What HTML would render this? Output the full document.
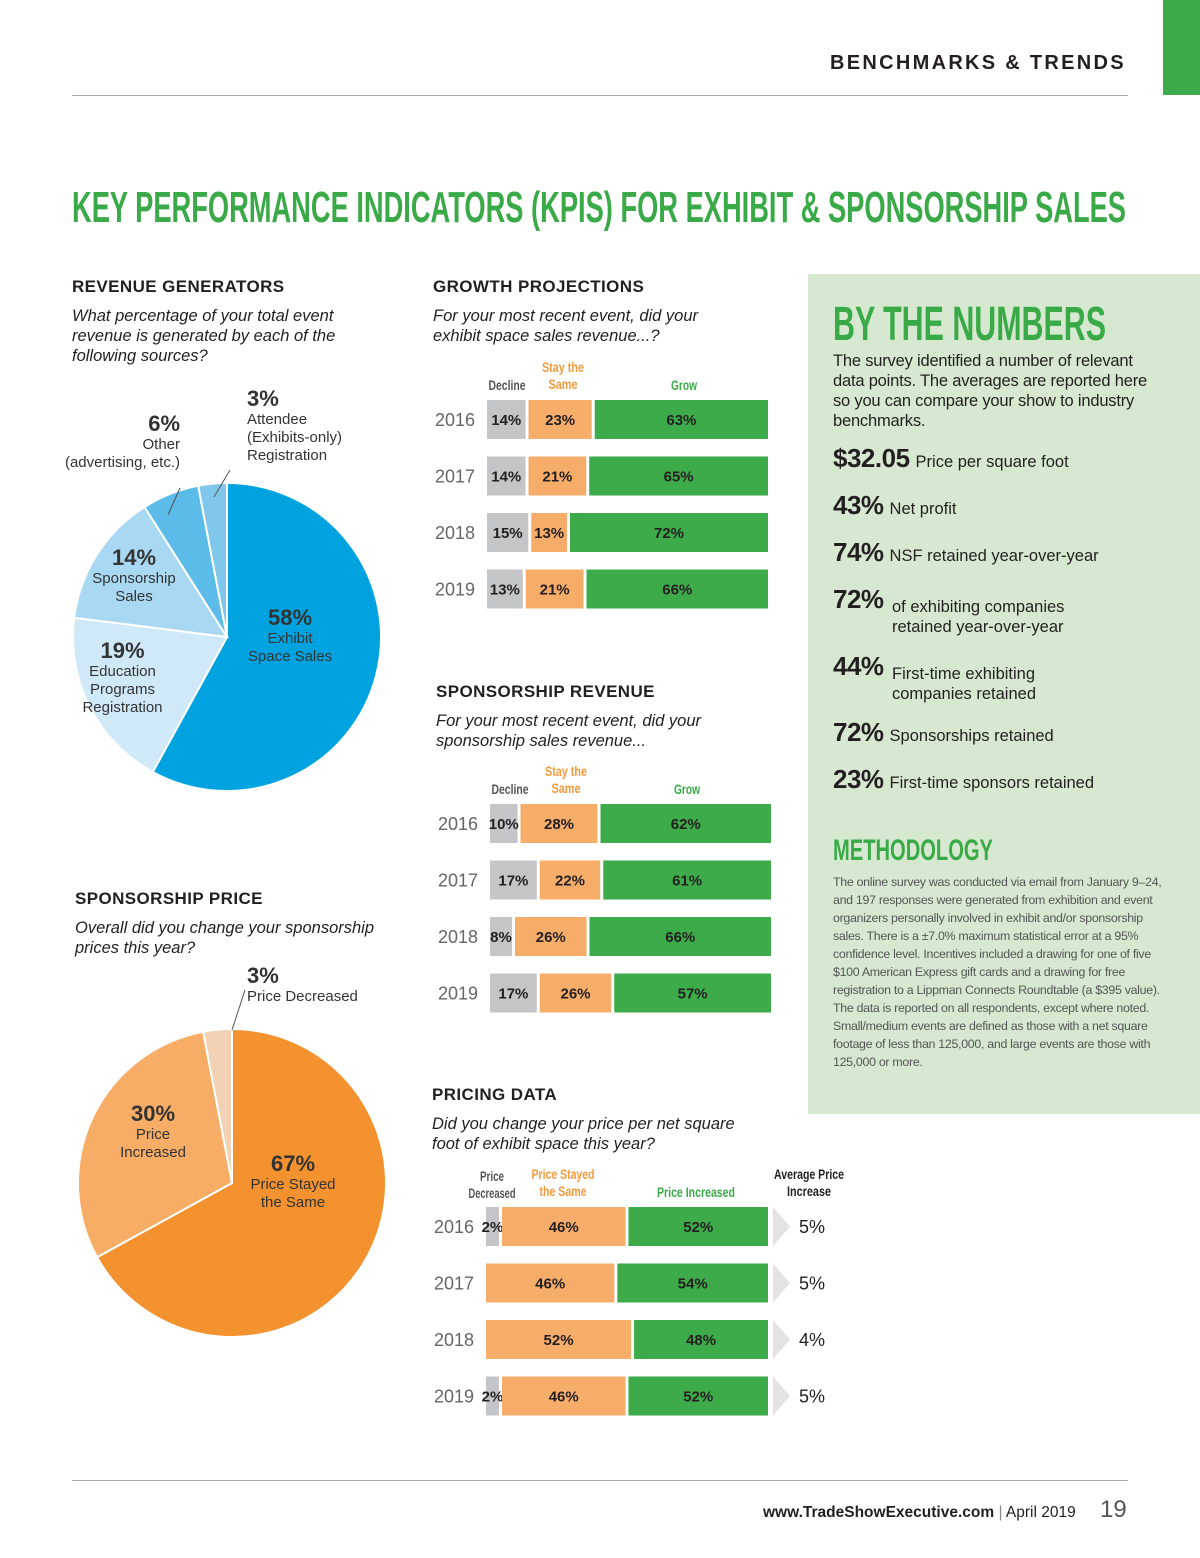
<!DOCTYPE html>
<html><head><meta charset="utf-8">
<style>
body{margin:0;width:1200px;height:1558px;position:relative;background:#fff;font-family:"Liberation Sans",sans-serif;color:#231f20;overflow:hidden}
.a{position:absolute}
.h{font-weight:bold;font-size:17px;letter-spacing:0.4px;color:#231f20}
.q{font-style:italic;font-size:16.5px;line-height:20px;color:#231f20}
.lbl{font-size:15px;line-height:18px;color:#333;text-align:center}
.big{font-weight:bold;font-size:22px}
.stat{font-size:16.5px;color:#231f20;line-height:20px}
.stat b{font-size:26px;letter-spacing:-0.5px;margin-right:6px}
</style></head><body>
<div class="a" style="left:1163px;top:0;width:37px;height:95px;background:#3dab4a"></div>
<div class="a" style="left:830px;top:52px;font-size:20px;letter-spacing:2.3px;font-weight:bold;color:#231f20">BENCHMARKS &amp; TRENDS</div>
<div class="a" style="left:72px;top:95px;width:1056px;height:1px;background:#aaa"></div>
<svg class="a" style="left:0;top:170px" width="1200" height="70">
<text x="72" y="52" textLength="1054" lengthAdjust="spacingAndGlyphs" font-family="Liberation Sans Narrow, Liberation Sans, sans-serif" font-weight="bold" font-size="44" fill="#3aaa48">KEY PERFORMANCE INDICATORS (KPIS) FOR EXHIBIT &amp; SPONSORSHIP SALES</text></svg>

<div class="a h" style="left:72px;top:277px">REVENUE GENERATORS</div>
<div class="a q" style="left:72px;top:306px;width:290px">What percentage of your total event revenue is generated by each of the following sources?</div>
<svg class="a" id="pie1" style="left:0;top:0" width="420" height="1558"></svg>
<div class="a lbl" style="left:240px;top:609px;width:100px"><span class="big">58%</span><br>Exhibit<br>Space Sales</div>
<div class="a lbl" style="left:70px;top:642px;width:105px"><span class="big">19%</span><br>Education<br>Programs<br>Registration</div>
<div class="a lbl" style="left:80px;top:549px;width:108px"><span class="big">14%</span><br>Sponsorship<br>Sales</div>
<div class="a lbl" style="left:45px;top:415px;width:135px;text-align:right"><span class="big">6%</span><br>Other<br>(advertising, etc.)</div>
<div class="a lbl" style="left:247px;top:390px;text-align:left"><span class="big">3%</span><br>Attendee<br>(Exhibits-only)<br>Registration</div>

<div class="a h" style="left:75px;top:889px">SPONSORSHIP PRICE</div>
<div class="a q" style="left:75px;top:918px;width:310px">Overall did you change your sponsorship prices this year?</div>
<div class="a lbl" style="left:247px;top:967px;text-align:left"><span class="big">3%</span><br>Price Decreased</div>
<div class="a lbl" style="left:103px;top:1105px;width:100px"><span class="big">30%</span><br>Price<br>Increased</div>
<div class="a lbl" style="left:238px;top:1155px;width:110px"><span class="big">67%</span><br>Price Stayed<br>the Same</div>

<div class="a h" style="left:433px;top:277px">GROWTH PROJECTIONS</div>
<div class="a q" style="left:433px;top:306px;width:300px">For your most recent event, did your exhibit space sales revenue...?</div>
<svg class="a" id="bars" style="left:0;top:0" width="1200" height="1558"
 font-family="Liberation Sans, sans-serif" font-weight="bold" font-size="13"></svg>

<div class="a h" style="left:436px;top:682px">SPONSORSHIP REVENUE</div>
<div class="a q" style="left:436px;top:711px;width:300px">For your most recent event, did your sponsorship sales revenue...</div>

<div class="a h" style="left:432px;top:1085px">PRICING DATA</div>
<div class="a q" style="left:432px;top:1114px;width:320px">Did you change your price per net square foot of exhibit space this year?</div>

<div class="a" style="left:808px;top:274px;width:392px;height:840px;background:#d6e9d0"></div>
<svg class="a" style="left:830px;top:290px" width="300" height="60"><text x="3" y="50" textLength="273" lengthAdjust="spacingAndGlyphs" font-family="Liberation Sans Narrow, Liberation Sans, sans-serif" font-weight="bold" font-size="48" fill="#3aaa48">BY THE NUMBERS</text></svg>
<div class="a stat" style="left:833px;top:351px;width:330px;letter-spacing:-0.2px">The survey identified a number of relevant data points. The averages are reported here so you can compare your show to industry benchmarks.</div>
<div class="a stat" style="left:833px;top:448px"><b>$32.05</b>Price per square foot</div>
<div class="a stat" style="left:833px;top:495px"><b>43%</b>Net profit</div>
<div class="a stat" style="left:833px;top:542px"><b>74%</b>NSF retained year-over-year</div>
<div class="a stat" style="left:833px;top:589px"><b>72%</b><span style="position:absolute;left:59px;top:8px;width:220px">of exhibiting companies retained year-over-year</span></div>
<div class="a stat" style="left:833px;top:656px"><b>44%</b><span style="position:absolute;left:59px;top:8px;width:220px">First-time exhibiting companies retained</span></div>
<div class="a stat" style="left:833px;top:722px"><b>72%</b>Sponsorships retained</div>
<div class="a stat" style="left:833px;top:769px"><b>23%</b>First-time sponsors retained</div>
<svg class="a" style="left:830px;top:828px" width="200" height="40"><text x="3" y="32" textLength="160" lengthAdjust="spacingAndGlyphs" font-family="Liberation Sans Narrow, Liberation Sans, sans-serif" font-weight="bold" font-size="30" fill="#3aaa48">METHODOLOGY</text></svg>
<div class="a" style="left:833px;top:873px;width:330px;font-size:12.4px;line-height:18px;color:#555;letter-spacing:-0.3px">The online survey was conducted via email from January 9–24, and 197 responses were generated from exhibition and event organizers personally involved in exhibit and/or sponsorship sales. There is a ±7.0% maximum statistical error at a 95% confidence level. Incentives included a drawing for one of five $100 American Express gift cards and a drawing for free registration to a Lippman Connects Roundtable (a $395 value). The data is reported on all respondents, except where noted. Small/medium events are defined as those with a net square footage of less than 125,000, and large events are those with 125,000 or more.</div>

<div class="a" style="left:72px;top:1480px;width:1056px;height:1px;background:#aaa"></div>
<div class="a" style="left:763px;top:1504px;font-size:15.5px;color:#231f20"><b>www.TradeShowExecutive.com</b> <span style="color:#888">|</span> April 2019</div>
<div class="a" style="left:1100px;top:1496px;font-size:24px;color:#555">19</div>

<script>
const revLabels=['Exhibit Space Sales','Education Programs Registration','Sponsorship Sales','Other','Attendee Registration'];
const revValues=[58,19,14,6,3];
const revColors=['#00a3df','#cfe9f8','#a9d9f2','#5bbce9','#7fc8ec'];
const priceLabels=['Price Stayed the Same','Price Increased','Price Decreased'];
const priceValues=[67,30,3];
const priceColors=['#f3922f','#f7ad66','#f2d2b4'];
const NS='http://www.w3.org/2000/svg';
function pie(svg,cx,cy,r,vals,cols,names){
  const tot=vals.reduce((a,b)=>a+b,0);let a0=0;
  vals.forEach((v,i)=>{
    const a1=a0+v/tot*2*Math.PI;
    const x0=cx+r*Math.sin(a0),y0=cy-r*Math.cos(a0),x1=cx+r*Math.sin(a1),y1=cy-r*Math.cos(a1);
    const p=document.createElementNS(NS,'path');
    p.setAttribute('d',`M${cx},${cy}L${x0},${y0}A${r},${r} 0 ${a1-a0>Math.PI?1:0} 1 ${x1},${y1}Z`);
    p.setAttribute('fill',cols[i]);p.setAttribute('stroke','#fff');p.setAttribute('stroke-width','2');
    
    
    svg.appendChild(p);a0=a1;
  });
}
const s1=document.getElementById('pie1');
pie(s1,227,637,154,revValues,revColors,revLabels);
pie(s1,232,1183,154,priceValues,priceColors,priceLabels);
[[180,488,168,515],[230,470,214,497],[245,990,232,1030]].forEach(l=>{const e=document.createElementNS(NS,'line');e.setAttribute('x1',l[0]);e.setAttribute('y1',l[1]);e.setAttribute('x2',l[2]);e.setAttribute('y2',l[3]);e.setAttribute('stroke','#555');s1.appendChild(e);});

const years=['2016','2017','2018','2019'];
const growthDecline=[14,14,15,13];
const growthSame=[23,21,13,21];
const growthGrow=[63,65,72,66];
const sponDecline=[10,17,8,17];
const sponSame=[28,22,26,26];
const sponGrow=[62,61,66,57];
const priceDecreased=[2,0,0,2];
const priceSame=[46,46,52,46];
const priceIncreased=[52,54,48,52];
const avgIncrease=['5%','5%','4%','5%'];

const B=document.getElementById('bars');
const cols=['#c4c5c7','#f7ad6a','#3dab4a'];
function txt(x,y,t,opt){const e=document.createElementNS(NS,'text');e.setAttribute('x',x);e.setAttribute('y',y);e.textContent=t;for(const k in opt)e.setAttribute(k,opt[k]);B.appendChild(e);return e;}
function chart(name,x0,W,y0,step,series,heads,avg){
  const h=39,gap=3,minW=13;
  heads.forEach(hd=>{hd[2].forEach((ln,j)=>{const t=txt(hd[0],hd[1]+j*17,ln,{'text-anchor':'middle',fill:hd[3],'font-size':'13.5',textLength:String(hd[4][j]),lengthAdjust:'spacingAndGlyphs'});});});
  years.forEach((yr,i)=>{
    const y=y0+i*step;
    const t=txt(x0-12,y+26,yr,{'text-anchor':'end',fill:'#666','font-size':'18','font-weight':'normal'});
    
    
    const vals=series.map(s=>s[i]);const n=vals.filter(v=>v>0).length;
    const usable=W-gap*(n-1);
    const small=vals.filter(v=>v>0&&usable*v/100<minW);
    const bigSum=vals.filter(v=>v>0&&usable*v/100>=minW).reduce((a,b)=>a+b,0);
    const rest=usable-small.length*minW;
    let x=x0;
    vals.forEach((v,k)=>{
      if(v<=0)return;
      const w=(usable*v/100<minW)?minW:rest*v/bigSum;
      const r=document.createElementNS(NS,'rect');
      r.setAttribute('x',x);r.setAttribute('y',y);r.setAttribute('width',w);r.setAttribute('height',h);r.setAttribute('fill',cols[k]);
      
      
      B.appendChild(r);
      const lt=txt(x+w/2,y+25,v+'%',{'text-anchor':'middle',fill:'#231f20','font-size':'15'});
      
      
      x+=w+gap;
    });
    if(avg){
      const p=document.createElementNS(NS,'path');
      p.setAttribute('d',`M${x0+W+5},${y}L${x0+W+22},${y+h/2}L${x0+W+5},${y+h}Z`);p.setAttribute('fill','#e3e3e4');
      
      
      B.appendChild(p);
      const at=txt(x0+W+31,y+26,avg[i],{fill:'#231f20','font-size':'18','font-weight':'normal'});
      
      
    }
  });
}
chart('growth',487,281,400,56.5,[growthDecline,growthSame,growthGrow],
 [[507,390,['Decline'],'#555',[37]],[563,372,['Stay the','Same'],'#f39a3c',[42,29]],[684,390,['Grow'],'#3aaa48',[26]]]);
chart('sponsorship',490,281,804,56.5,[sponDecline,sponSame,sponGrow],
 [[510,794,['Decline'],'#555',[37]],[566,776,['Stay the','Same'],'#f39a3c',[42,29]],[687,794,['Grow'],'#3aaa48',[26]]]);
chart('pricing',486,282,1207,56.5,[priceDecreased,priceSame,priceIncreased],
 [[492,1181,['Price','Decreased'],'#555',[24,47]],[563,1179,['Price Stayed','the Same'],'#f39a3c',[63,47]],[696,1197,['Price Increased'],'#3aaa48',[78]],[809,1179,['Average Price','Increase'],'#231f20',[70,44]]],avgIncrease);
</script>
</body></html>
